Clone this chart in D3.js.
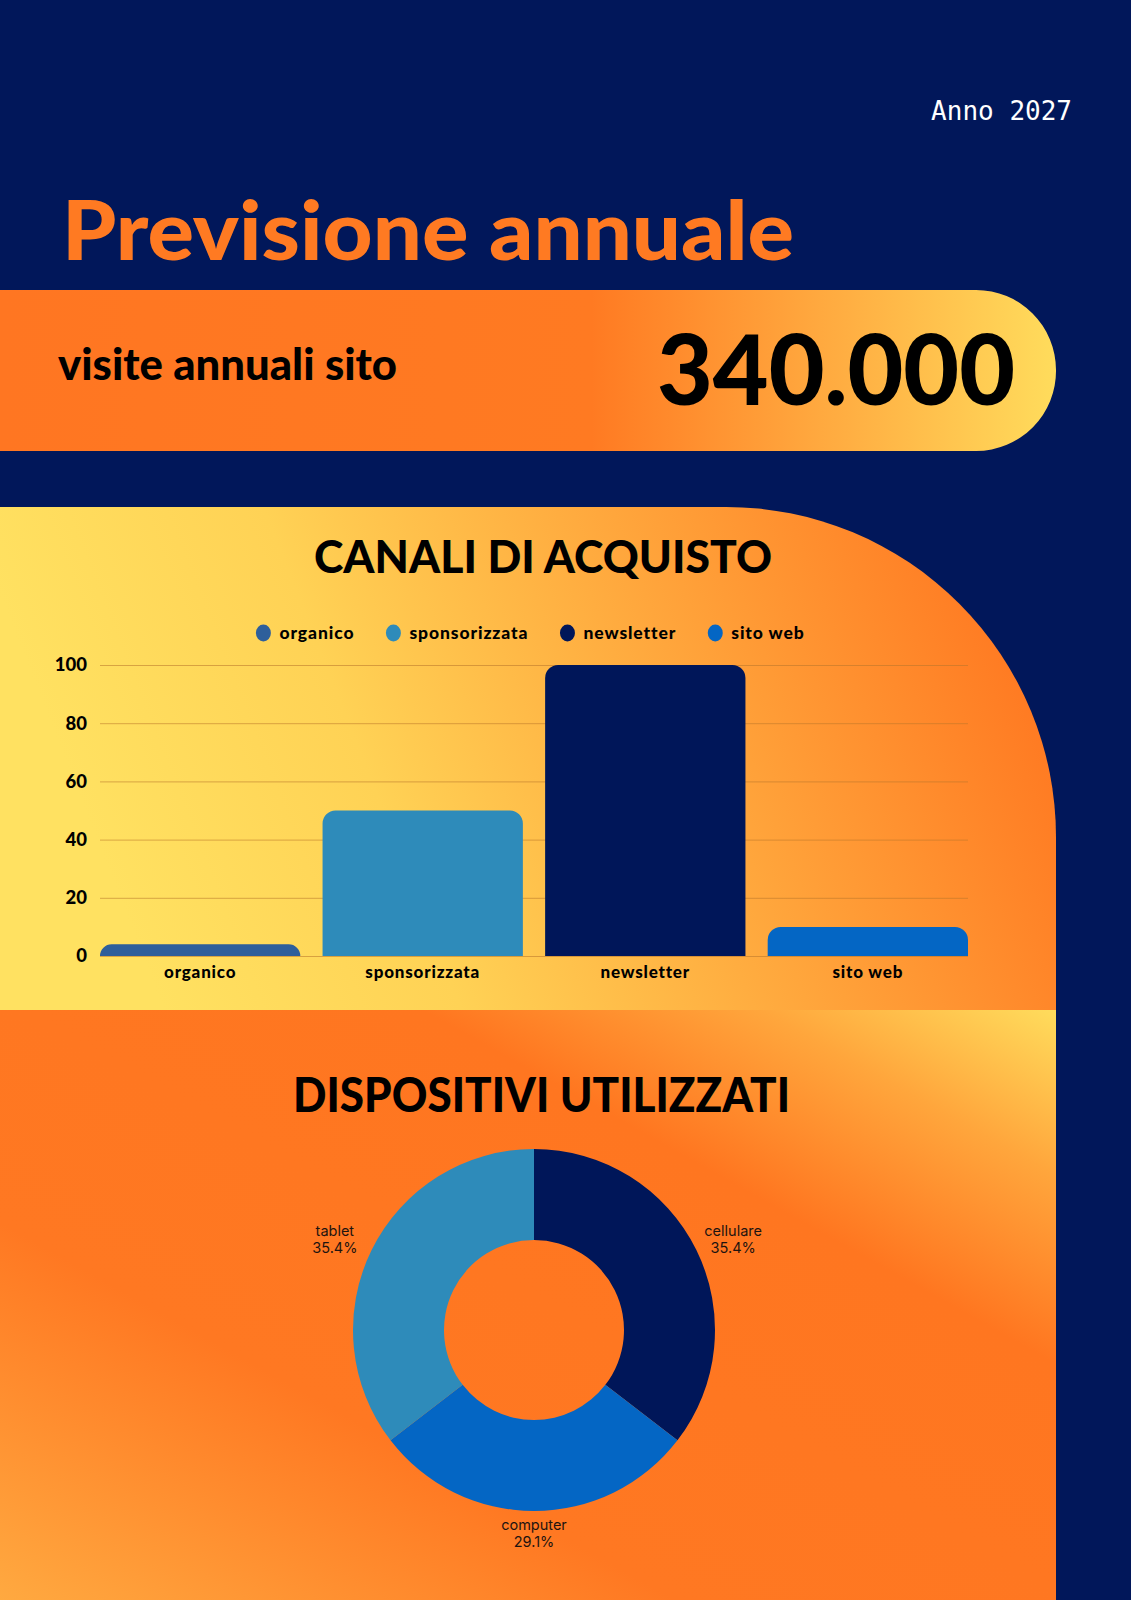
<!DOCTYPE html>
<html lang="it">
<head>
<meta charset="utf-8">
<script src="https://d3js.org/d3.v7.min.js"></script>
<style>
  html, body { margin: 0; padding: 0; background: #01175a; }
  svg { display: block; }
  .axis text { font-family: Lato, sans-serif; font-weight: 900; fill: #000; }
</style>
</head>
<body>
<div id="chart"></div>
<script>
// --- dati ---
var canali = ["organico", "sponsorizzata", "newsletter", "sito web"];
var canaliValori = [4, 50, 100, 10];
var canaliColori = ["#2e5f9b", "#2e8bba", "#001659", "#0466c4"];
var yTicks = [0, 20, 40, 60, 80, 100];

var dispositivi = ["cellulare", "computer", "tablet"];
var dispositiviQuota = [35.4, 29.1, 35.4];
var dispositiviColori = ["#001659", "#0466c4", "#2e8bba"];

var W = 1131, H = 1600;
var navy = "#01175a";

var svg = d3.select("#chart").append("svg")
  .attr("width", W).attr("height", H);

var defs = svg.append("defs");

function gradient(id, units, attrs, stops) {
  var g = defs.append("linearGradient").attr("id", id)
    .attr("gradientUnits", units);
  Object.keys(attrs).forEach(k => g.attr(k, attrs[k]));
  stops.forEach(s => g.append("stop").attr("offset", s[0]).attr("stop-color", s[1]));
}
gradient("banner", "userSpaceOnUse", {x1: 0, y1: 0, x2: 1056, y2: 0},
  [[0, "#ff7622"], [0.56, "#ff7a22"], [0.8, "#ffae42"], [1, "#ffdc5c"]]);
gradient("panel1", "userSpaceOnUse", {x1: 120, y1: 900, x2: 980, y2: 560},
  [[0, "#ffe161"], [0.3, "#ffd255"], [0.65, "#ffa63c"], [1, "#ff7a22"]]);
// diagonale del box: angolo in alto a destra giallo, fascia arancio al centro
gradient("panel2", "objectBoundingBox", {x1: 1, y1: 0, x2: 0, y2: 1},
  [[0, "#ffdc5c"], [0.14, "#ffa63c"], [0.3, "#ff7620"], [0.68, "#ff7822"], [1, "#ffa940"]]);

// sfondo
svg.append("rect").attr("width", W).attr("height", H).attr("fill", navy);

// --- intestazione ---
svg.append("text")
  .attr("x", 1072).attr("y", 120)
  .attr("text-anchor", "end")
  .attr("font-family", "'DejaVu Sans Mono', monospace")
  .attr("font-size", 26)
  .attr("fill", "#fff")
  .text("Anno 2027");

svg.append("text")
  .attr("x", 62).attr("y", 260)
  .attr("font-family", "Lato, sans-serif").attr("font-weight", 900)
  .attr("font-size", 82)
  .attr("textLength", 732).attr("lengthAdjust", "spacingAndGlyphs")
  .attr("fill", "#ff7a22")
  .text("Previsione annuale");

// banner arrotondato a destra
var bTop = 290, bBot = 451, bRight = 1056, bR = 80;
svg.append("path")
  .attr("d", `M0,${bTop} H${bRight - bR} A${bR},${bR} 0 0 1 ${bRight},${bTop + bR}
              A${bR},${bR} 0 0 1 ${bRight - bR},${bBot} H0 Z`)
  .attr("fill", "url(#banner)");

svg.append("text")
  .attr("x", 58).attr("y", 380)
  .attr("font-family", "Lato, sans-serif").attr("font-weight", 900)
  .attr("font-size", 44)
  .attr("textLength", 339).attr("lengthAdjust", "spacingAndGlyphs")
  .attr("fill", "#000")
  .text("visite annuali sito");

svg.append("text")
  .attr("x", 657).attr("y", 405)
  .attr("font-family", "Lato, sans-serif").attr("font-weight", 900)
  .attr("font-size", 98)
  .attr("textLength", 358).attr("lengthAdjust", "spacingAndGlyphs")
  .attr("fill", "#000")
  .text("340.000");

// --- pannello canali ---
var pTop = 507, pBot = 1010, pRight = 1056, pR = 330;
svg.append("path")
  .attr("d", `M0,${pTop} H${pRight - pR} A${pR},${pR} 0 0 1 ${pRight},${pTop + pR}
              V${pBot} H0 Z`)
  .attr("fill", "url(#panel1)");

svg.append("text")
  .attr("x", 314).attr("y", 573)
  .attr("font-family", "Lato, sans-serif").attr("font-weight", 900)
  .attr("font-size", 46)
  .attr("textLength", 458).attr("lengthAdjust", "spacingAndGlyphs")
  .attr("fill", "#000")
  .text("CANALI DI ACQUISTO");

var x = d3.scaleBand().domain(canali).range([100, 968]).paddingInner(0.1).paddingOuter(0);
var y = d3.scaleLinear().domain([0, 100]).range([956, 665]);

// griglia + etichette asse y
var yAxis = svg.append("g").attr("class", "axis")
  .attr("transform", "translate(100,0)")
  .call(d3.axisLeft(y).tickValues(yTicks).tickSize(-868).tickPadding(13));
yAxis.select(".domain").remove();
yAxis.selectAll("line").attr("stroke", "#b8752a").attr("stroke-opacity", 0.55);
yAxis.selectAll("text").attr("font-size", 18.5);

// barre con angoli superiori arrotondati
function barPath(bx, by, bw, bh, r) {
  r = Math.min(r, bh);
  return `M${bx},${by + bh} V${by + r} A${r},${r} 0 0 1 ${bx + r},${by}
          H${bx + bw - r} A${r},${r} 0 0 1 ${bx + bw},${by + r} V${by + bh} Z`;
}
svg.append("g").selectAll("path")
  .data(canali).enter().append("path")
  .attr("d", (d, i) => barPath(x(d), y(canaliValori[i]), x.bandwidth(), y(0) - y(canaliValori[i]), 13))
  .attr("fill", (d, i) => canaliColori[i]);

var xAxis = svg.append("g").attr("class", "axis")
  .attr("transform", "translate(0,956)")
  .call(d3.axisBottom(x).tickSize(0).tickPadding(10));
xAxis.select(".domain").remove();
xAxis.selectAll("text").attr("font-size", 17).attr("letter-spacing", 0.8);

// legenda
var legend = svg.append("g");
var items = legend.selectAll("g").data(canali).enter().append("g");
items.append("ellipse").attr("rx", 7.5).attr("ry", 8.5)
  .attr("fill", (d, i) => canaliColori[i]);
items.append("text")
  .attr("x", 16).attr("dy", "0.35em")
  .attr("font-family", "Lato, sans-serif").attr("font-weight", 900)
  .attr("font-size", 17.5).attr("letter-spacing", 0.9).attr("fill", "#000")
  .text(d => d);
var lx = 0;
var offs = [];
items.each(function () {
  offs.push(lx);
  lx += 16 + this.querySelector("text").getComputedTextLength() + 39;
});
var legW = lx - 39 + 8;
items.attr("transform", (d, i) => `translate(${offs[i]},0)`);
legend.attr("transform", `translate(${530 - legW / 2 + 8},633)`);

// --- pannello dispositivi ---
svg.append("rect")
  .attr("x", 0).attr("y", pBot).attr("width", pRight).attr("height", H - pBot)
  .attr("fill", "url(#panel2)");

svg.append("text")
  .attr("x", 293).attr("y", 1112)
  .attr("font-family", "Lato, sans-serif").attr("font-weight", 900)
  .attr("font-size", 48)
  .attr("textLength", 497).attr("lengthAdjust", "spacingAndGlyphs")
  .attr("fill", "#000")
  .text("DISPOSITIVI UTILIZZATI");

var cx = 534, cy = 1330;
var pie = d3.pie().sort(null).value(d => d);
var arcs = pie(dispositiviQuota);
var arc = d3.arc().innerRadius(90).outerRadius(181);

var donut = svg.append("g").attr("transform", `translate(${cx},${cy})`);
donut.selectAll("path").data(arcs).enter().append("path")
  .attr("d", arc)
  .attr("fill", (d, i) => dispositiviColori[i]);

var labels = donut.selectAll("text").data(arcs).enter().append("text")
  .attr("transform", d => {
    var a = (d.startAngle + d.endAngle) / 2;
    return `translate(${222 * Math.sin(a)},${-204 * Math.cos(a)})`;
  })
  .attr("text-anchor", "middle")
  .attr("font-family", "Inter, sans-serif")
  .attr("font-size", 14.5)
  .attr("fill", "#1e1410");
labels.append("tspan").attr("x", 0).attr("y", -4).text((d, i) => dispositivi[i]);
labels.append("tspan").attr("x", 0).attr("y", 13).text(d => d3.format(".1f")(d.data) + "%");
</script>
</body>
</html>
